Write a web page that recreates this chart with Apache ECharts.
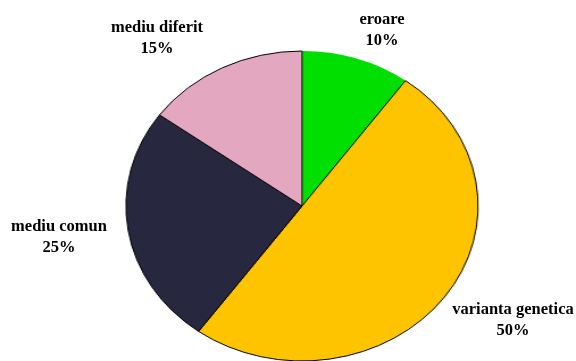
<!DOCTYPE html>
<html>
<head>
<meta charset="utf-8">
<script src="https://cdn.jsdelivr.net/npm/echarts@6/dist/echarts.min.js"></script>
<style>
  html, body { margin: 0; padding: 0; background: #ffffff; }
  #wrap { position: relative; width: 576px; height: 361px; overflow: hidden; }
  /* the pie is drawn round and stretched sideways into an oval */
  #pie { position: absolute; left: 0; top: 0; width: 507px; height: 361px;
         transform: scaleX(1.136); transform-origin: 0 0; }
  #labels { position: absolute; left: 0; top: 0; width: 576px; height: 361px; }
</style>
</head>
<body>
<div id="wrap">
  <div id="pie"></div>
  <div id="labels"></div>
</div>
<script>
// Sources of variation (percent)
const categories = ['eroare', 'varianta genetica', 'mediu comun', 'mediu diferit'];
const values = [10, 50, 25, 15];
const colors = ['#00DF00', '#FFC400', '#27273F', '#E3A8C0'];

// Label anchor points on the page (centre of each two-line label)
const labelPos = [[382, 30], [513, 320], [59, 237], [157, 38]];

const STRETCH = 1.136;
const CX = 302, CY = 206, R = 155;

const pie = echarts.init(document.getElementById('pie'), null, { renderer: 'canvas' });
pie.setOption({
  animation: false,
  series: [{
    type: 'pie',
    center: [CX / STRETCH, CY],
    radius: R,
    startAngle: 90,
    clockwise: true,
    label: { show: false },
    labelLine: { show: false },
    emphasis: { disabled: true },
    data: categories.map((name, i) => ({
      name: name,
      value: values[i],
      itemStyle: {
        color: colors[i],
        borderColor: '#000000',
        borderWidth: i === 0 ? 0 : 1
      }
    }))
  }]
});

const lab = echarts.init(document.getElementById('labels'), null, { renderer: 'canvas' });
lab.setOption({
  animation: false,
  graphic: categories.map((name, i) => ({
    type: 'text',
    x: labelPos[i][0],
    y: labelPos[i][1],
    style: {
      text: name + '\n' + values[i] + '%',
      fontFamily: '"Liberation Serif", "Times New Roman", serif',
      fontWeight: 'bold',
      fontSize: 16.5,
      lineHeight: 21,
      fill: '#000000',
      align: 'center',
      verticalAlign: 'middle'
    }
  }))
});
</script>
</body>
</html>
